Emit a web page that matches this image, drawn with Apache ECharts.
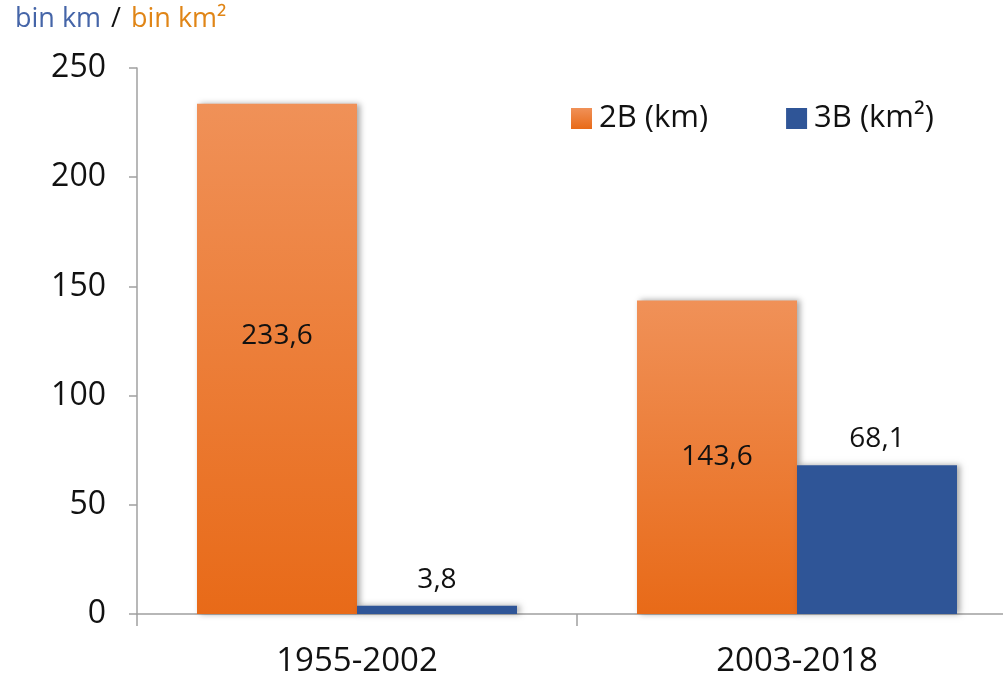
<!DOCTYPE html>
<html>
<head>
<meta charset="utf-8">
<script src="https://cdn.jsdelivr.net/npm/echarts@6/dist/echarts.min.js"></script>
<style>
  html, body { margin: 0; padding: 0; background: #fff; overflow: hidden; }
  #chart { width: 1017px; height: 680px; }
</style>
</head>
<body>
<div id="chart"></div>
<script>
const periods = ['1955-2002', '2003-2018'];
const roads2B = [233.6, 143.6];
const areas3B = [3.8, 68.1];
const seriesNames = ['2B (km)', '3B (km²)'];

const fmt = function (v) {
  return String(v).replace('.', ',');
};

const chartDom = document.getElementById('chart');
const mychart = echarts.init(chartDom);

const font = '"Open Sans", "Noto Sans", sans-serif';

const orangeFill = new echarts.graphic.LinearGradient(0, 0, 0, 1, [
  { offset: 0, color: '#f09158' },
  { offset: 1, color: '#e86a18' },
]);

const barShadow = {
  shadowBlur: 6,
  shadowColor: 'rgba(0,0,0,0.35)',
  shadowOffsetX: 3,
  shadowOffsetY: 0,
};

const option = {
  animation: false,
  textStyle: { fontFamily: font },
  title: {
    left: 10,
    top: 1,
    text: '{a|bin km}{s|/}{b|bin km²}',
    textStyle: {
      fontWeight: 'normal',
      rich: {
        a: { color: '#4565a8', fontSize: 27, fontFamily: font, fontWeight: 'normal' },
        s: { color: '#111', fontSize: 27, fontFamily: font, fontWeight: 'normal', padding: [0, 10] },
        b: { color: '#e08516', fontSize: 27, fontFamily: font, fontWeight: 'normal' },
      },
    },
  },
  legend: {
    data: seriesNames,
    left: 566,
    top: 98,
    itemWidth: 21,
    itemHeight: 21,
    itemGap: 78,
    icon: 'rect',
    textStyle: { fontSize: 31, color: '#111', fontFamily: font, padding: [0, 0, 0, 2] },
  },
  grid: {
    left: 137,
    top: 68,
    width: 880,
    height: 546,
  },
  xAxis: {
    type: 'category',
    data: periods,
    axisLine: { lineStyle: { color: '#a0a0a0', width: 1.5 } },
    axisTick: { show: true, length: 12, lineStyle: { color: '#a0a0a0', width: 1.5 } },
    axisLabel: { fontSize: 33, color: '#111', margin: 31, fontFamily: font },
  },
  yAxis: {
    type: 'value',
    min: 0,
    max: 250,
    interval: 50,
    splitLine: { show: false },
    axisLine: { show: true, lineStyle: { color: '#a0a0a0', width: 1.5 } },
    axisTick: { show: true, length: 8, lineStyle: { color: '#a0a0a0', width: 1.5 } },
    axisLabel: { fontSize: 32, color: '#111', margin: 31, fontFamily: font },
  },
  series: [
    {
      name: seriesNames[0],
      type: 'bar',
      barWidth: 160,
      barGap: '0%',
      itemStyle: Object.assign({ color: orangeFill }, barShadow),
      label: {
        show: true,
        position: 'inside',
        fontSize: 28,
        color: '#111',
        fontFamily: font,
        formatter: function (p) { return fmt(p.value); },
      },
      data: roads2B.map(function (v, i) {
        return i === 0 ? { value: v, label: { offset: [0, -23] } } : v;
      }),
    },
    {
      name: seriesNames[1],
      type: 'bar',
      barWidth: 160,
      barGap: '0%',
      itemStyle: Object.assign({ color: '#2f5597' }, barShadow),
      label: {
        show: true,
        position: 'top',
        distance: 12,
        fontSize: 28,
        color: '#111',
        fontFamily: font,
        formatter: function (p) { return fmt(p.value); },
      },
      data: areas3B,
    },
  ],
};

mychart.setOption(option);
</script>
</body>
</html>
